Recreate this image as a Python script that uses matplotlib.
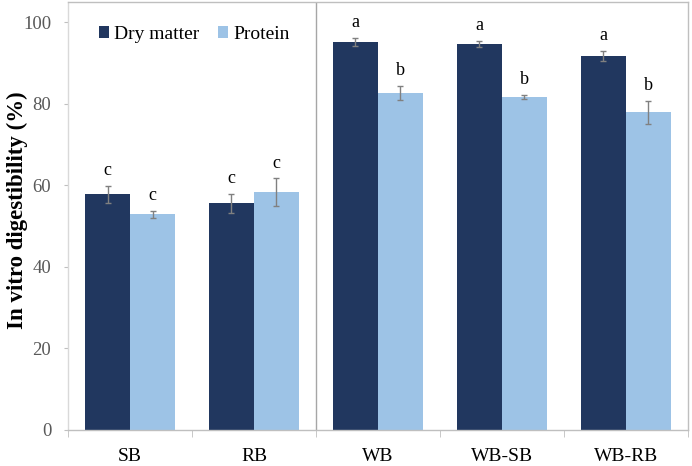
import numpy as np
import matplotlib.pyplot as plt

plt.rcParams["font.family"] = ["Liberation Serif", "DejaVu Serif"]

groups = ["SB", "RB", "WB", "WB-SB", "WB-RB"]
dry_matter = [57.8, 55.6, 95.1, 94.7, 91.7]
dry_err = [2.0, 2.4, 1.0, 0.8, 1.2]
protein = [52.9, 58.3, 82.7, 81.6, 77.9]
protein_err = [0.9, 3.4, 1.7, 0.5, 2.8]
dry_letters = ["c", "c", "a", "a", "a"]
protein_letters = ["c", "c", "b", "b", "b"]

dark = "#21375f"
light = "#9dc3e6"
grey = "#808080"

fig = plt.figure(figsize=(6.92, 4.66), dpi=100)
ax = fig.add_axes([0.0983, 0.0773, 0.8957, 0.9184])

x = np.arange(len(groups))
w = 0.363
ax.bar(x - w / 2, dry_matter, w, color=dark, label="Dry matter",
       yerr=dry_err, error_kw=dict(ecolor=grey, capsize=2.5, elinewidth=1, capthick=1))
ax.bar(x + w / 2, protein, w, color=light, label="Protein",
       yerr=protein_err, error_kw=dict(ecolor=grey, capsize=2.5, elinewidth=1, capthick=1))

# significance letters above error bars
for i in range(len(groups)):
    ax.annotate(dry_letters[i], (x[i] - w / 2, dry_matter[i] + dry_err[i]),
                xytext=(0, 5), textcoords="offset points",
                ha="center", va="bottom", fontsize=13)
    ax.annotate(protein_letters[i], (x[i] + w / 2, protein[i] + protein_err[i]),
                xytext=(0, 5), textcoords="offset points",
                ha="center", va="bottom", fontsize=13)

# separator between single brans and WB blends
ax.axvline(1.5, color="#a6a6a6", linewidth=1)

ax.set_xlim(-0.5, 4.5)
ax.set_ylim(0, 105)
ax.set_yticks(range(0, 101, 20))
ax.set_xticks(x)
ax.set_xticklabels(groups, fontsize=14)
ax.set_xticks(np.arange(-0.5, 4.6, 1), minor=True)
ax.tick_params(axis="x", which="major", length=0, pad=13)
ax.tick_params(axis="x", which="minor", length=5, color="#bfbfbf", direction="out")
ax.tick_params(axis="y", length=3, color="#bfbfbf", labelsize=13.5,
               labelcolor="#595959", pad=9)

for s in ax.spines.values():
    s.set_color("#bfbfbf")
    s.set_linewidth(1)
ax.spines["left"].set_color("#d9d9d9")

ax.set_ylabel("In vitro digestibility (%)", fontsize=16.5, fontweight="bold")
ax.yaxis.set_label_coords(-0.064, 0.514)

ax.legend(loc="upper left", bbox_to_anchor=(0.022, 0.985), ncol=2, frameon=False,
          fontsize=14, handlelength=0.5, handleheight=0.5, handletextpad=0.25,
          columnspacing=1.0)

fig.savefig("out.png", dpi=100)
